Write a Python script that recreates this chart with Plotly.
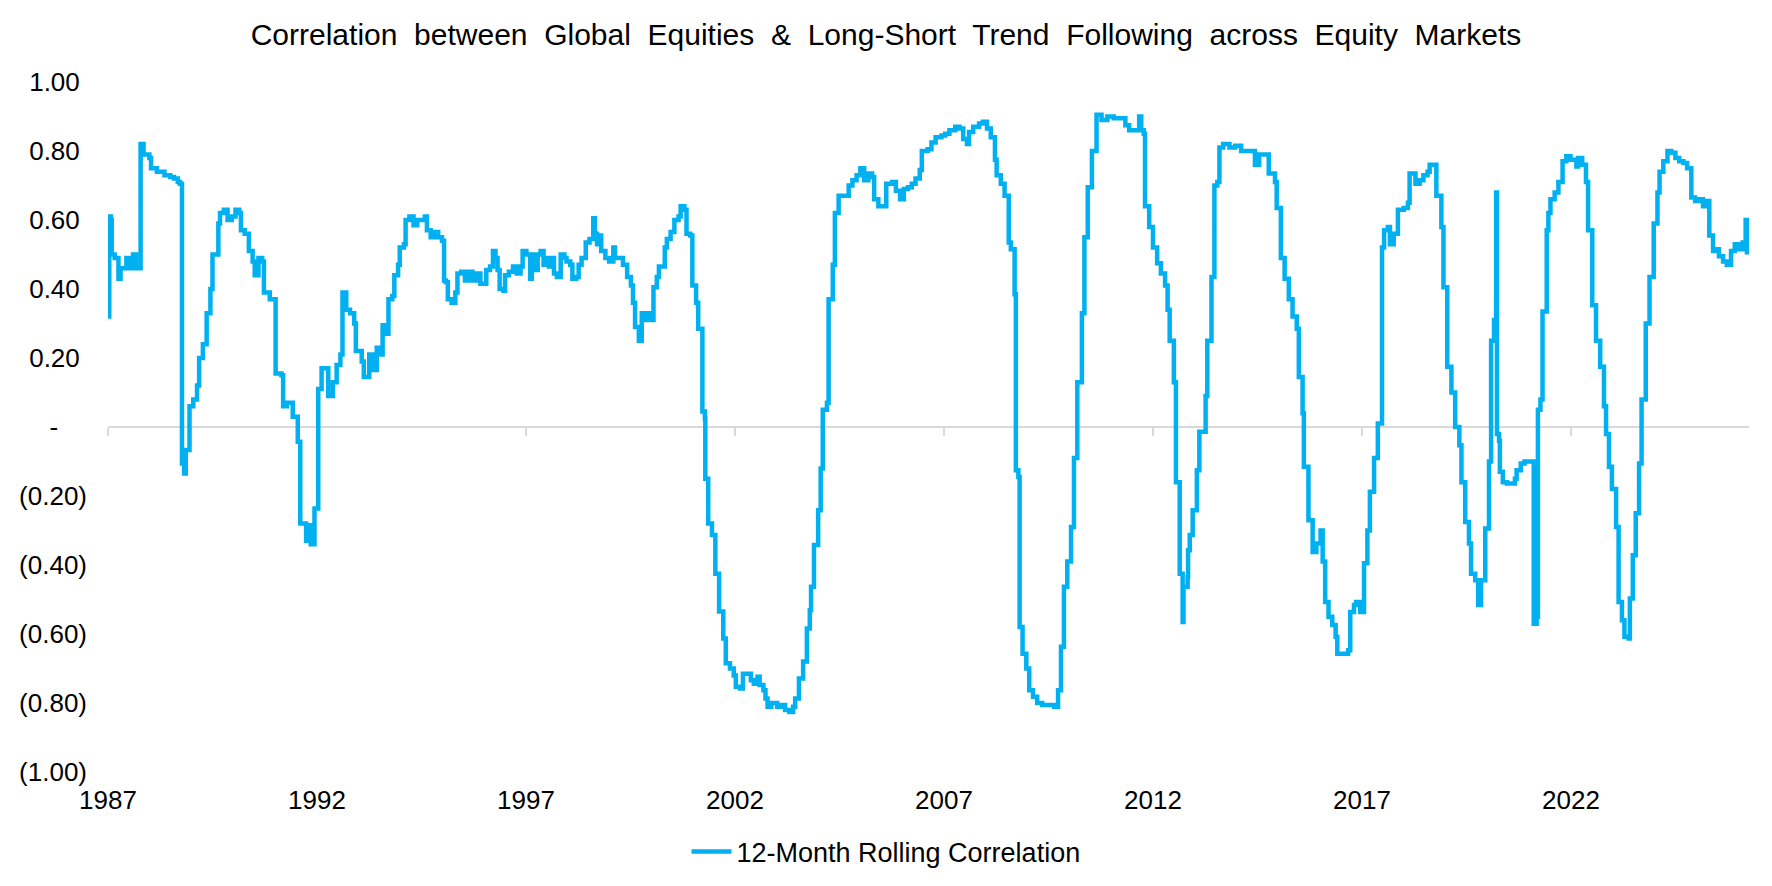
import plotly.graph_objects as go

# ---- data (decimal year, correlation) ----
years = [
    1987.00, 1987.03, 1987.07, 1987.09, 1987.16, 1987.25, 1987.30, 1987.44, 1987.53, 1987.60,
    1987.67, 1987.78, 1987.85, 1987.99, 1988.03, 1988.17, 1988.35, 1988.49, 1988.58, 1988.67,
    1988.72, 1988.77, 1988.82, 1988.86, 1988.95, 1989.04, 1989.13, 1989.18, 1989.27, 1989.36,
    1989.45, 1989.50, 1989.64, 1989.68, 1989.77, 1989.86, 1989.96, 1990.05, 1990.14, 1990.18,
    1990.27, 1990.37, 1990.46, 1990.51, 1990.60, 1990.69, 1990.73, 1990.87, 1991.01, 1991.15,
    1991.19, 1991.28, 1991.42, 1991.54, 1991.60, 1991.74, 1991.81, 1991.85, 1991.94, 1992.03,
    1992.11, 1992.27, 1992.38, 1992.47, 1992.56, 1992.61, 1992.70, 1992.79, 1992.89, 1992.93,
    1993.07, 1993.12, 1993.25, 1993.34, 1993.43, 1993.53, 1993.57, 1993.66, 1993.71, 1993.80,
    1993.85, 1993.94, 1993.98, 1994.08, 1994.12, 1994.21, 1994.31, 1994.40, 1994.58, 1994.63,
    1994.72, 1994.81, 1994.90, 1994.99, 1995.04, 1995.08, 1995.13, 1995.22, 1995.31, 1995.36,
    1995.45, 1995.54, 1995.63, 1995.72, 1995.82, 1995.91, 1996.05, 1996.14, 1996.21, 1996.27,
    1996.32, 1996.37, 1996.46, 1996.50, 1996.59, 1996.69, 1996.78, 1996.87, 1996.92, 1997.01,
    1997.10, 1997.14, 1997.19, 1997.28, 1997.35, 1997.42, 1997.49, 1997.55, 1997.60, 1997.67,
    1997.74, 1997.83, 1997.92, 1997.97, 1998.06, 1998.11, 1998.20, 1998.26, 1998.33, 1998.43,
    1998.52, 1998.61, 1998.65, 1998.70, 1998.76, 1998.80, 1998.90, 1998.99, 1999.09, 1999.13,
    1999.32, 1999.42, 1999.51, 1999.56, 1999.61, 1999.70, 1999.77, 1999.84, 1999.94, 2000.03,
    2000.05, 2000.13, 2000.18, 2000.32, 2000.37, 2000.46, 2000.55, 2000.65, 2000.70, 2000.79,
    2000.84, 2000.93, 2000.98, 2001.07, 2001.12, 2001.22, 2001.28, 2001.29, 2001.36, 2001.45,
    2001.53, 2001.62, 2001.72, 2001.78, 2001.88, 2001.97, 2002.02, 2002.12, 2002.19, 2002.38,
    2002.45, 2002.54, 2002.59, 2002.68, 2002.73, 2002.78, 2002.87, 2003.01, 2003.11, 2003.20,
    2003.30, 2003.39, 2003.44, 2003.53, 2003.63, 2003.72, 2003.79, 2003.82, 2003.89, 2003.99,
    2004.05, 2004.10, 2004.20, 2004.24, 2004.34, 2004.39, 2004.48, 2004.62, 2004.72, 2004.81,
    2004.91, 2005.00, 2005.09, 2005.19, 2005.28, 2005.33, 2005.43, 2005.52, 2005.62, 2005.76,
    2005.85, 2005.95, 2006.04, 2006.14, 2006.23, 2006.32, 2006.42, 2006.47, 2006.61, 2006.70,
    2006.80, 2006.94, 2007.03, 2007.13, 2007.27, 2007.37, 2007.46, 2007.55, 2007.60, 2007.70,
    2007.84, 2007.93, 2008.03, 2008.12, 2008.22, 2008.26, 2008.36, 2008.45, 2008.55, 2008.60,
    2008.69, 2008.72, 2008.78, 2008.81, 2008.88, 2008.97, 2009.04, 2009.13, 2009.23, 2009.35,
    2009.50, 2009.64, 2009.73, 2009.80, 2009.87, 2009.95, 2010.04, 2010.11, 2010.19, 2010.30,
    2010.36, 2010.44, 2010.54, 2010.65, 2010.77, 2010.91, 2011.06, 2011.25, 2011.34, 2011.43,
    2011.58, 2011.67, 2011.72, 2011.78, 2011.81, 2011.91, 2012.00, 2012.10, 2012.19, 2012.29,
    2012.35, 2012.40, 2012.50, 2012.55, 2012.64, 2012.71, 2012.73, 2012.83, 2012.84, 2012.88,
    2012.95, 2013.05, 2013.11, 2013.26, 2013.30, 2013.40, 2013.47, 2013.54, 2013.59, 2013.68,
    2013.83, 2013.97, 2014.11, 2014.35, 2014.44, 2014.54, 2014.68, 2014.77, 2014.92, 2014.96,
    2015.06, 2015.15, 2015.25, 2015.34, 2015.44, 2015.49, 2015.58, 2015.61, 2015.72, 2015.82,
    2015.91, 2016.01, 2016.06, 2016.12, 2016.20, 2016.29, 2016.37, 2016.41, 2016.58, 2016.67,
    2016.72, 2016.81, 2016.86, 2016.96, 2017.05, 2017.13, 2017.19, 2017.29, 2017.38, 2017.48,
    2017.53, 2017.62, 2017.67, 2017.76, 2017.86, 2018.00, 2018.10, 2018.14, 2018.28, 2018.38,
    2018.47, 2018.57, 2018.62, 2018.78, 2018.90, 2018.95, 2019.04, 2019.14, 2019.23, 2019.33,
    2019.38, 2019.47, 2019.56, 2019.61, 2019.71, 2019.78, 2019.85, 2019.95, 2020.04, 2020.09,
    2020.16, 2020.21, 2020.23, 2020.28, 2020.30, 2020.37, 2020.47, 2020.56, 2020.66, 2020.70,
    2020.80, 2020.89, 2021.04, 2021.11, 2021.18, 2021.21, 2021.27, 2021.32, 2021.42, 2021.46,
    2021.51, 2021.61, 2021.70, 2021.80, 2021.89, 2021.99, 2022.08, 2022.13, 2022.17, 2022.27,
    2022.36, 2022.41, 2022.51, 2022.60, 2022.70, 2022.79, 2022.84, 2022.91, 2022.98, 2023.08,
    2023.14, 2023.22, 2023.28, 2023.38, 2023.41, 2023.48, 2023.55, 2023.63, 2023.69, 2023.79,
    2023.88, 2023.98, 2024.07, 2024.12, 2024.21, 2024.31, 2024.40, 2024.50, 2024.59, 2024.69,
    2024.78, 2024.88, 2024.97, 2025.07, 2025.16, 2025.26, 2025.31, 2025.40, 2025.50, 2025.54,
    2025.64, 2025.73, 2025.83, 2025.92, 2026.02, 2026.11, 2026.18, 2026.21,
]

correlation = [
    0.32, 0.61, 0.60, 0.50, 0.49, 0.43, 0.46, 0.49, 0.46, 0.50,
    0.46, 0.82, 0.79, 0.78, 0.75, 0.74, 0.73, 0.725, 0.72, 0.71,
    0.705, -0.106, -0.135, -0.067, 0.06, 0.08, 0.12, 0.20, 0.24, 0.33,
    0.40, 0.50, 0.59, 0.62, 0.63, 0.60, 0.61, 0.63, 0.62, 0.57,
    0.56, 0.51, 0.48, 0.44, 0.49, 0.48, 0.39, 0.37, 0.155, 0.15,
    0.06, 0.07, 0.03, -0.043, -0.28, -0.33, -0.285, -0.34, -0.236, 0.11,
    0.17, 0.09, 0.13, 0.18, 0.21, 0.39, 0.34, 0.33, 0.30, 0.22,
    0.19, 0.145, 0.21, 0.165, 0.23, 0.21, 0.295, 0.27, 0.37, 0.38,
    0.44, 0.47, 0.52, 0.53, 0.60, 0.61, 0.585, 0.60, 0.61, 0.57,
    0.55, 0.565, 0.55, 0.54, 0.425, 0.42, 0.37, 0.36, 0.39, 0.445,
    0.45, 0.425, 0.45, 0.425, 0.445, 0.415, 0.455, 0.465, 0.51, 0.49,
    0.455, 0.40, 0.395, 0.44, 0.45, 0.465, 0.445, 0.465, 0.51, 0.50,
    0.43, 0.50, 0.455, 0.50, 0.51, 0.47, 0.49, 0.465, 0.49, 0.445,
    0.435, 0.50, 0.49, 0.48, 0.47, 0.43, 0.435, 0.47, 0.49, 0.535,
    0.545, 0.605, 0.56, 0.53, 0.555, 0.51, 0.49, 0.48, 0.52, 0.49,
    0.47, 0.435, 0.41, 0.36, 0.29, 0.25, 0.33, 0.31, 0.33, 0.31,
    0.405, 0.435, 0.465, 0.52, 0.545, 0.565, 0.60, 0.61, 0.64, 0.63,
    0.56, 0.555, 0.41, 0.36, 0.285, 0.045, 0.025, -0.15, -0.28, -0.313,
    -0.425, -0.535, -0.613, -0.685, -0.70, -0.72, -0.753, -0.758, -0.715, -0.734,
    -0.744, -0.724, -0.748, -0.763, -0.787, -0.811, -0.80, -0.811, -0.806, -0.82,
    -0.826, -0.811, -0.787, -0.729, -0.68, -0.584, -0.531, -0.463, -0.342, -0.241,
    -0.12, 0.05, 0.07, 0.37, 0.47, 0.62, 0.67, 0.67, 0.70, 0.715,
    0.73, 0.75, 0.715, 0.735, 0.725, 0.66, 0.64, 0.64, 0.705, 0.71,
    0.685, 0.66, 0.69, 0.695, 0.705, 0.72, 0.745, 0.80, 0.805, 0.825,
    0.84, 0.845, 0.85, 0.86, 0.87, 0.865, 0.835, 0.82, 0.855, 0.87,
    0.88, 0.885, 0.865, 0.84, 0.775, 0.73, 0.705, 0.67, 0.535, 0.515,
    0.385, -0.125, -0.145, -0.58, -0.657, -0.70, -0.763, -0.782, -0.80, -0.806,
    -0.806, -0.811, -0.763, -0.637, -0.463, -0.39, -0.29, -0.09, 0.13, 0.33,
    0.55, 0.695, 0.80, 0.905, 0.89, 0.90, 0.895, 0.895, 0.875, 0.86,
    0.86, 0.90, 0.86, 0.85, 0.64, 0.58, 0.52, 0.475, 0.445, 0.41,
    0.34, 0.25, 0.13, -0.16, -0.425, -0.565, -0.463, -0.434, -0.357, -0.313,
    -0.241, -0.125, -0.014, 0.09, 0.25, 0.435, 0.70, 0.71, 0.81, 0.82,
    0.81, 0.815, 0.80, 0.80, 0.76, 0.79, 0.79, 0.735, 0.71, 0.635,
    0.49, 0.43, 0.37, 0.32, 0.285, 0.145, 0.04, -0.115, -0.27, -0.362,
    -0.338, -0.30, -0.39, -0.507, -0.55, -0.574, -0.608, -0.657, -0.657, -0.647,
    -0.536, -0.516, -0.507, -0.536, -0.395, -0.30, -0.188, -0.09, 0.01, 0.52,
    0.57, 0.58, 0.53, 0.56, 0.63, 0.635, 0.65, 0.735, 0.705, 0.715,
    0.73, 0.74, 0.76, 0.67, 0.58, 0.405, 0.175, 0.10, 0.0, -0.053,
    -0.16, -0.275, -0.338, -0.425, -0.444, -0.516, -0.444, -0.294, -0.10, 0.25,
    0.31, 0.68, -0.02, -0.04, -0.13, -0.16, -0.164, -0.164, -0.15, -0.125,
    -0.106, -0.10, -0.10, -0.57, -0.55, 0.05, 0.08, 0.335, 0.57, 0.62,
    0.66, 0.68, 0.71, 0.77, 0.785, 0.775, 0.775, 0.755, 0.78, 0.76,
    0.71, 0.57, 0.353, 0.25, 0.175, 0.06, -0.02, -0.115, -0.18, -0.29,
    -0.507, -0.56, -0.608, -0.613, -0.497, -0.372, -0.25, -0.106, 0.08, 0.30,
    0.435, 0.59, 0.68, 0.74, 0.77, 0.80, 0.795, 0.78, 0.77, 0.765,
    0.75, 0.665, 0.655, 0.66, 0.64, 0.655, 0.555, 0.51, 0.515, 0.495,
    0.48, 0.47, 0.51, 0.53, 0.515, 0.535, 0.60, 0.50,
]

x_tick_years = [1987, 1992, 1997, 2002, 2007, 2012, 2017, 2022]
x_tick_labels = ["1987", "1992", "1997", "2002", "2007", "2012", "2017", "2022"]
y_tick_values = [1.0, 0.8, 0.6, 0.4, 0.2, 0.0, -0.2, -0.4, -0.6, -0.8, -1.0]
y_tick_labels = ["1.00", "0.80", "0.60", "0.40", "0.20", "-", "(0.20)", "(0.40)",
                 "(0.60)", "(0.80)", "(1.00)"]

series_name = "12-Month Rolling Correlation"
title_text = "Correlation between Global Equities & Long-Short Trend Following across Equity Markets"

# ---- styling ----
NBSP = "\u00a0"
FONT = "Liberation Sans, Arial, sans-serif"
BLUE = "#00B0F0"
GRAY = "#D9D9D9"

y_text = []
for lab in y_tick_labels:
    if lab == "-":
        y_text.append("-" + NBSP * 4)
    elif lab.startswith("("):
        y_text.append(lab)
    else:
        y_text.append(lab + NBSP)

# wider word spacing as in the reference title
title_display = (NBSP + " ").join(title_text.split(" "))

x_range = [1987.0, 2026.26]

fig = go.Figure()

# invisible trace to carry the bottom label axis
fig.add_trace(go.Scatter(
    x=[years[0]], y=[correlation[0]], xaxis="x", yaxis="y",
    mode="markers", marker=dict(opacity=0), showlegend=False, hoverinfo="skip",
))

fig.add_trace(go.Scatter(
    x=years, y=correlation, xaxis="x2", yaxis="y",
    mode="lines", name=series_name,
    line=dict(color=BLUE, width=4.5, shape="hv"),
))

fig.update_layout(
    width=1772, height=886,
    paper_bgcolor="white", plot_bgcolor="white",
    margin=dict(l=108, r=23, t=82, b=114),
    font=dict(family=FONT, color="black", size=26),
    title=dict(text=title_display, x=0.5, xref="container", xanchor="center",
               y=1 - 34 / 886, yref="container", yanchor="middle",
               font=dict(family=FONT, size=30, color="black")),
    xaxis=dict(range=x_range, tickmode="array", tickvals=x_tick_years, ticktext=x_tick_labels,
               showgrid=False, zeroline=False, showline=False, ticks="",
               ticklabelstandoff=10, tickfont=dict(size=26)),
    xaxis2=dict(range=x_range, overlaying="x", anchor="free", position=0.5,
                tickmode="array", tickvals=x_tick_years, showticklabels=False,
                showgrid=False, zeroline=False, showline=True, linecolor=GRAY, linewidth=2,
                ticks="outside", ticklen=8, tickwidth=2, tickcolor=GRAY, layer="below traces"),
    yaxis=dict(range=[-1, 1], tickmode="array", tickvals=y_tick_values, ticktext=y_text,
               showgrid=False, zeroline=False, showline=False, ticks="",
               ticklabelstandoff=20, tickfont=dict(size=26)),
    legend=dict(orientation="h", x=0.5, xref="container", xanchor="center",
                y=1 - 852 / 886, yref="container", yanchor="middle",
                font=dict(family=FONT, size=27, color="black"), itemwidth=40),
    showlegend=True,
)

fig.write_html("out.html")
